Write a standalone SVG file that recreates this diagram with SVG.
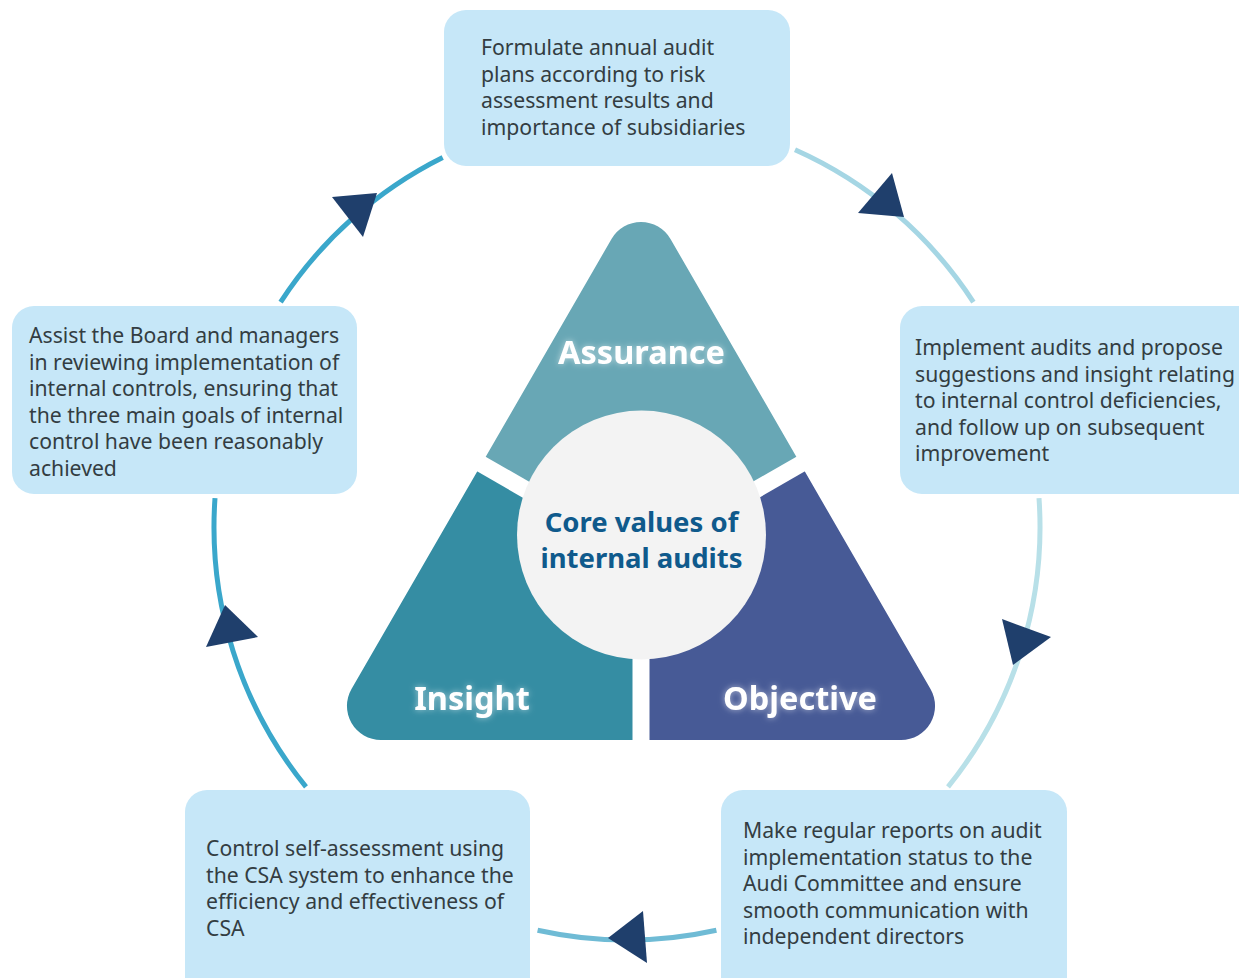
<svg xmlns="http://www.w3.org/2000/svg" width="1239" height="978" viewBox="0 0 1239 978">
<defs>
<style>
.box{fill:#c6e7f8;}
.bt{font-family:"Noto Sans","Liberation Sans",sans-serif;font-size:21.2px;fill:#333d42;}
.lbl{font-family:"Noto Sans","Liberation Sans",sans-serif;font-size:32.5px;font-weight:bold;fill:#ffffff;text-anchor:middle;}
.core{font-family:"Noto Sans","Liberation Sans",sans-serif;font-size:27.5px;font-weight:bold;fill:#0f5a8c;text-anchor:middle;}
.arc{fill:none;stroke-width:5;stroke-linecap:butt;}
.ah{fill:#1f3f6c;}
.gap{stroke:#ffffff;stroke-width:17;}
</style>
<clipPath id="tri">
<path d="M611.5 239 A34 34 0 0 1 670.5 239 L930.5 689 A34 34 0 0 1 901.1 740 L380.9 740 A34 34 0 0 1 351.5 689 Z"/>
</clipPath>
<filter id="glow" x="-20%" y="-40%" width="140%" height="180%">
<feGaussianBlur in="SourceAlpha" stdDeviation="3" result="b"/>
<feFlood flood-color="#ffffff" flood-opacity="0.55"/>
<feComposite in2="b" operator="in" result="g"/>
<feMerge><feMergeNode in="g"/><feMergeNode in="SourceGraphic"/></feMerge>
</filter>
</defs>
<rect width="1239" height="978" fill="#ffffff"/>

<g id="connectors">
<path class="arc" stroke="#3aa7cb" d="M280.6 302.1 A413 413 0 0 1 442.7 157.4"/>
<path class="arc" stroke="#a5d6e4" d="M795 149.7 A413 413 0 0 1 973.4 302.1"/>
<path class="arc" stroke="#b8e0e8" d="M1039 498.2 A413 413 0 0 1 948 786.9"/>
<path class="arc" stroke="#6fbbd5" d="M716.4 930.2 A413 413 0 0 1 537.6 930.2"/>
<path class="arc" stroke="#3aa7cb" d="M306 786.9 A413 413 0 0 1 215 498.2"/>
<polygon class="ah" points="332,197 377,193 363,237"/>
<polygon class="ah" points="892,173 858,213 904,217"/>
<polygon class="ah" points="1002,619 1051,637 1013,665"/>
<polygon class="ah" points="643,911 608,938 647,963"/>
<polygon class="ah" points="225,605 258,637 206,647"/>
</g>

<g id="core-values">
<g clip-path="url(#tri)">
<polygon fill="#68a7b5" points="641,556 294.6,356 294.6,100 987.4,100 987.4,356"/>
<polygon fill="#358da3" points="641,556 294.6,356 200,356 200,800 641,800"/>
<polygon fill="#475a96" points="641,556 987.4,356 1100,356 1100,800 641,800"/>
</g>
<line class="gap" x1="641" y1="556" x2="450" y2="446"/>
<line class="gap" x1="641" y1="556" x2="832" y2="446"/>
<line class="gap" x1="641" y1="556" x2="641" y2="760"/>
<circle cx="641.5" cy="535" r="124.5" fill="#f3f3f3"/>
<text class="lbl" x="641.5" y="364" filter="url(#glow)">Assurance</text>
<text class="lbl" x="472" y="710" filter="url(#glow)">Insight</text>
<text class="lbl" x="800" y="710" filter="url(#glow)">Objective</text>
<text class="core" x="641.5" y="532">Core values of</text>
<text class="core" x="641.5" y="568">internal audits</text>
</g>

<g id="box-plan">
<rect class="box" x="444" y="10" width="346" height="156" rx="22"/>
<text class="bt" x="481" y="55">Formulate annual audit</text>
<text class="bt" x="481" y="81.5">plans according to risk</text>
<text class="bt" x="481" y="108">assessment results and</text>
<text class="bt" x="481" y="134.5">importance of subsidiaries</text>
</g>

<g id="box-implement">
<rect class="box" x="900" y="306" width="360" height="188" rx="22"/>
<text class="bt" x="915" y="355">Implement audits and propose</text>
<text class="bt" x="915" y="381.5">suggestions and insight relating</text>
<text class="bt" x="915" y="408">to internal control deficiencies,</text>
<text class="bt" x="915" y="434.5">and follow up on subsequent</text>
<text class="bt" x="915" y="461">improvement</text>
</g>

<g id="box-report">
<rect class="box" x="721" y="790" width="346" height="210" rx="22"/>
<text class="bt" x="743" y="838">Make regular reports on audit</text>
<text class="bt" x="743" y="864.5">implementation status to the</text>
<text class="bt" x="743" y="891">Audi Committee and ensure</text>
<text class="bt" x="743" y="917.5">smooth communication with</text>
<text class="bt" x="743" y="944">independent directors</text>
</g>

<g id="box-csa">
<rect class="box" x="185" y="790" width="345" height="210" rx="22"/>
<text class="bt" x="206" y="856">Control self-assessment using</text>
<text class="bt" x="206" y="882.5">the CSA system to enhance the</text>
<text class="bt" x="206" y="909">efficiency and effectiveness of</text>
<text class="bt" x="206" y="935.5">CSA</text>
</g>

<g id="box-assist">
<rect class="box" x="12" y="306" width="345" height="188" rx="22"/>
<text class="bt" x="29" y="343">Assist the Board and managers</text>
<text class="bt" x="29" y="369.5">in reviewing implementation of</text>
<text class="bt" x="29" y="396">internal controls, ensuring that</text>
<text class="bt" x="29" y="422.5">the three main goals of internal</text>
<text class="bt" x="29" y="449">control have been reasonably</text>
<text class="bt" x="29" y="475.5">achieved</text>
</g>
</svg>
